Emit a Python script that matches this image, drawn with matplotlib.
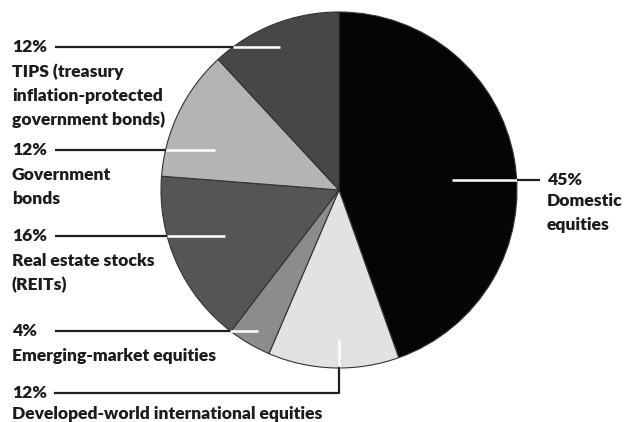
import matplotlib
matplotlib.use("Agg")
import matplotlib.pyplot as plt
import numpy as np

# Data
categories = ["Domestic\nequities", "Developed-world international equities",
              "Emerging-market equities", "Real estate stocks\n(REITs)",
              "Government\nbonds",
              "TIPS (treasury\ninflation-protected\ngovernment bonds)"]
values = [45, 12, 4, 16, 12, 12]
pct_labels = ["45%", "12%", "4%", "16%", "12%", "12%"]
colors = ["#050505", "#e2e2e2", "#8c8c8c", "#555555", "#b4b4b4", "#474747"]

W, H = 624, 422
fig = plt.figure(figsize=(W / 100, H / 100), dpi=100)
ax = fig.add_axes([0, 0, 1, 1])

cx, cy, r = 339, H - 190, 178
ax.pie(values, colors=colors, startangle=90, counterclock=False,
       center=(cx, cy), radius=r, frame=True,
       wedgeprops=dict(edgecolor="#333333", linewidth=0.8))
ax.set_xlim(0, W)
ax.set_ylim(0, H)
ax.set_aspect("equal")
ax.axis("off")

font = dict(family=["Lato", "DejaVu Sans"], weight="heavy", fontsize=12.6, color="#1c1c1c")
line_c = "#1e1e1e"

def ypx(y):
    return H - y

def block(x, y, pct, cat, gap, step):
    ax.text(x, y, pct, va="center", ha="left", **font)
    for i, ln in enumerate(cat.split("\n")):
        ax.text(x, y - gap - step * i, ln, va="center", ha="left", **font)

# left-side leaders: (index, label y px, inner x start px)
left = [(5, 47, 280), (4, 150, 215), (3, 236, 225), (2, 331, 258)]
for idx, yl, xin in left:
    y = ypx(yl)
    xe = cx - np.sqrt(r ** 2 - (y - cy) ** 2)
    ax.plot([xin, xe], [y, y], color="white", lw=1.8, solid_capstyle="butt", zorder=5)
    ax.plot([xe, 55], [y, y], color=line_c, lw=1.6, solid_capstyle="butt", zorder=5)
    block(12, y, pct_labels[idx], categories[idx], 24.5, 24)

# developed-world (bottom)
yb = cy - r
ax.plot([cx, cx], [ypx(340), yb], color="white", lw=1.8, solid_capstyle="butt", zorder=5)
ax.plot([cx, cx, 55], [yb, ypx(393), ypx(393)], color=line_c, lw=1.6, zorder=5)
block(12, ypx(393), pct_labels[1], categories[1], 21, 24)

# domestic (right)
yr = ypx(180)
xe = cx + np.sqrt(r ** 2 - (yr - cy) ** 2)
ax.plot([452, xe], [yr, yr], color="white", lw=1.8, solid_capstyle="butt", zorder=5)
ax.plot([xe, 540], [yr, yr], color=line_c, lw=1.6, solid_capstyle="butt", zorder=5)
block(547, yr, pct_labels[0], categories[0], 21.5, 23.5)

fig.savefig("out.png", dpi=100)
